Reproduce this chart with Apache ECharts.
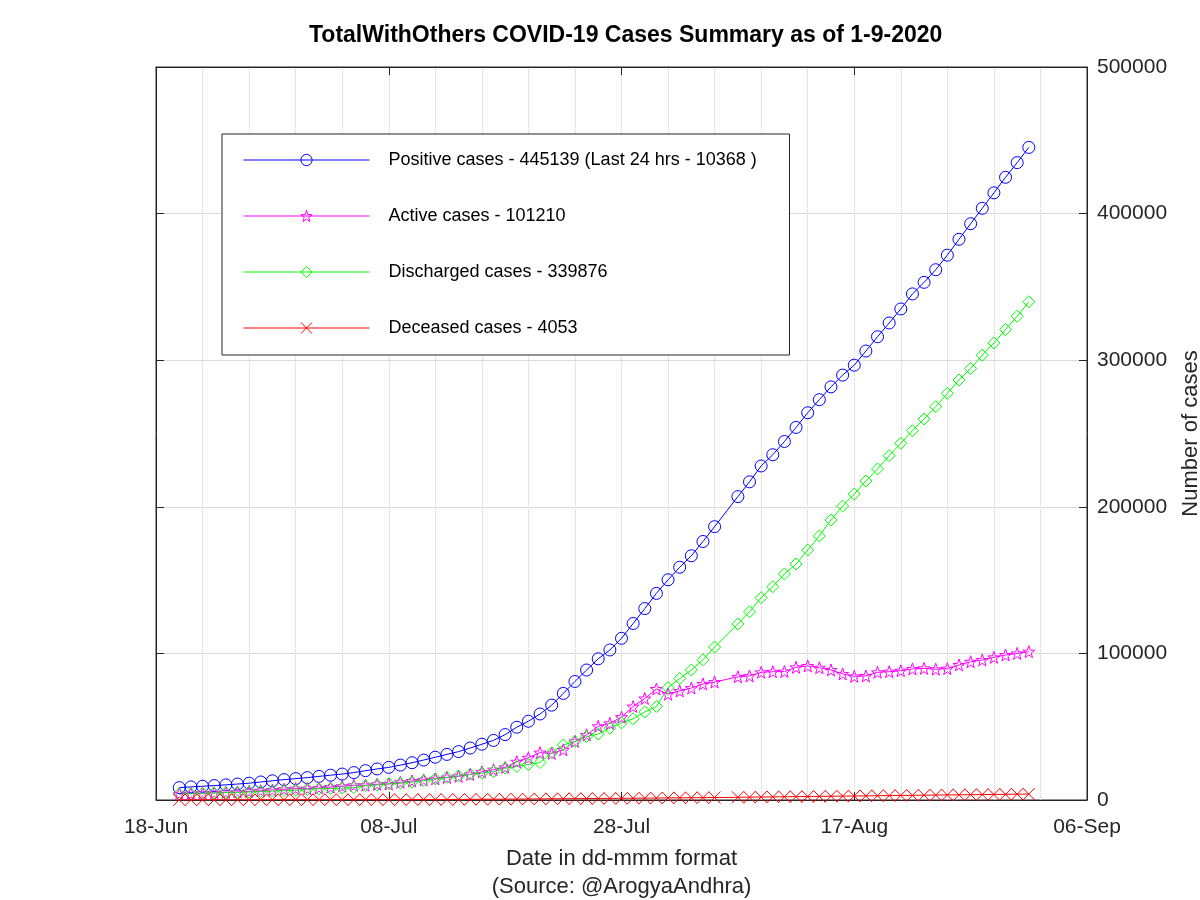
<!DOCTYPE html>
<html>
<head>
<meta charset="utf-8">
<script src="https://cdn.jsdelivr.net/npm/echarts@6/dist/echarts.min.js"></script>
<style>html,body{margin:0;padding:0;background:#fff}#c{width:1200px;height:900px}</style>
</head>
<body>
<div id="c"></div>
<script>
const titleText = 'TotalWithOthers COVID-19 Cases Summary as of 1-9-2020';
const xAxisTitle = 'Date in dd-mmm format\n(Source: @ArogyaAndhra)';
const yAxisTitle = 'Number of cases';
const startDate = '2020-06-18';
const xTickLabels = ['18-Jun', '08-Jul', '28-Jul', '17-Aug', '06-Sep'];
const yTickValues = [0, 100000, 200000, 300000, 400000, 500000];

const dates = [
 '2020-06-20','2020-06-21','2020-06-22','2020-06-23','2020-06-24','2020-06-25','2020-06-26','2020-06-27','2020-06-28','2020-06-29','2020-06-30',
 '2020-07-01','2020-07-02','2020-07-03','2020-07-04','2020-07-05','2020-07-06','2020-07-07','2020-07-08','2020-07-09','2020-07-10',
 '2020-07-11','2020-07-12','2020-07-13','2020-07-14','2020-07-15','2020-07-16','2020-07-17','2020-07-18','2020-07-19','2020-07-20',
 '2020-07-21','2020-07-22','2020-07-23','2020-07-24','2020-07-25','2020-07-26','2020-07-27','2020-07-28','2020-07-29','2020-07-30','2020-07-31',
 '2020-08-01','2020-08-02','2020-08-03','2020-08-04','2020-08-05','2020-08-07','2020-08-08','2020-08-09','2020-08-10',
 '2020-08-11','2020-08-12','2020-08-13','2020-08-14','2020-08-15','2020-08-16','2020-08-17','2020-08-18','2020-08-19','2020-08-20',
 '2020-08-21','2020-08-22','2020-08-23','2020-08-24','2020-08-25','2020-08-26','2020-08-27','2020-08-28','2020-08-29','2020-08-30','2020-08-31',
 '2020-09-01'
];

const positive = [
 8452, 8929, 9372, 9834, 10331, 10884, 11489, 12285, 13098, 13891, 14595,
 15252, 16097, 16934, 17699, 18697, 20019, 21197, 22259, 23814, 25422,
 27235, 29168, 31103, 33019, 35451, 38044, 40646, 44609, 49650, 53724,
 58668, 64713, 72711, 80858, 88671, 96298, 102349, 110297, 120390, 130557, 140933,
 150209, 158764, 166586, 176333, 186461, 206960, 217040, 227860, 235525,
 244549, 254146, 264142, 273085, 281817, 289829, 296609, 306261, 316003, 325396,
 334940, 345216, 353111, 361712, 371639, 382469, 393090, 403616, 414164, 424767, 434771,
 445139
];

const active = [
 4235, 4480, 4664, 4936, 5215, 5552, 5863, 6346, 6833, 7326, 7760,
 7746, 8267, 8831, 9410, 10043, 10035, 10700, 10894, 12091, 12976,
 13732, 14447, 15326, 16147, 17467, 19174, 20719, 22260, 26118, 28800,
 32336, 31763, 34272, 39990, 44431, 50247, 52303, 56527, 63771, 69252, 75720,
 72188, 74404, 76377, 79104, 80426, 84000, 84650, 87100, 87500,
 87600, 90500, 91400, 90200, 88700, 86000, 84300, 84600, 87100, 87500,
 88200, 89400, 89800, 89200, 89600, 92100, 94300, 95500, 97300, 98900, 100000,
 101210
];

const discharged = [
 4111, 4338, 4589, 4779, 4988, 5196, 5480, 5782, 6096, 6385, 6648,
 7313, 7632, 7897, 8071, 8422, 9745, 10245, 11101, 11446, 12154,
 13194, 14393, 15412, 16464, 17532, 18378, 19393, 21763, 22890, 24228,
 25574, 32127, 37555, 39935, 43255, 45010, 48956, 52622, 55406, 60024, 63864,
 76614, 82886, 88672, 95625, 104354, 120100, 128400, 138000, 145500,
 154200, 161000, 170500, 180100, 191000, 200500, 208700, 217600, 225800, 234900,
 243300, 251900, 259900, 268300, 277400, 286500, 294300, 303400, 311800, 320900, 330000,
 339876
];

const deceased = [
 106, 111, 119, 119, 128, 136, 146, 157, 169, 180, 187,
 193, 198, 206, 218, 232, 239, 252, 264, 277, 292,
 309, 328, 365, 408, 452, 492, 534, 586, 642, 696,
 758, 823, 884, 933, 985, 1041, 1090, 1148, 1213, 1281, 1349,
 1407, 1474, 1537, 1604, 1681, 1842, 1939, 2036, 2116,
 2203, 2296, 2378, 2475, 2562, 2650, 2732, 2820, 2906, 2996,
 3092, 3189, 3282, 3368, 3460, 3541, 3633, 3714, 3796, 3884, 3969,
 4053
];

const seriesNames = [
 'Positive cases - 445139 (Last 24 hrs - 10368 )',
 'Active cases - 101210',
 'Discharged cases - 339876',
 'Deceased cases - 4053'
];
const seriesColors = ['#0000ff', '#ff00ff', '#00ff00', '#ff0000'];

const DAY = 86400000;
const t0 = Date.parse(startDate + 'T00:00:00Z');
const dayOffset = d => Math.round((Date.parse(d + 'T00:00:00Z') - t0) / DAY);
const xs = dates.map(dayOffset);
const pairs = arr => arr.map((v, i) => [xs[i], v]);

const FONT = '"Liberation Sans", Arial, Helvetica, sans-serif';
const starPath = 'path://M50,0 L61.76,33.82 L97.55,34.55 L69.02,56.18 L79.39,90.45 L50,70 L20.61,90.45 L30.98,56.18 L2.45,34.55 L38.24,33.82 Z';
const crossPath = 'path://M0,0 L10,10 M10,0 L0,10';
const symbols = ['circle', starPath, 'diamond', crossPath];
const symbolSizes = [12, 12, 12, 12];
const valuesList = [positive, active, discharged, deceased];

const AXC = '#262626';
const chart = echarts.init(document.getElementById('c'), null, {renderer: 'canvas'});
const option = {
  backgroundColor: '#ffffff',
  animation: false,
  textStyle: {fontFamily: FONT},
  title: {
    text: titleText, left: 304, top: 19,
    textStyle: {fontFamily: FONT, fontSize: 23, fontWeight: 'bold', color: '#000'}
  },
  grid: {left: 156, right: 113, top: 67, bottom: 100, outerBoundsMode: 'none', containLabel: false,
         show: true, borderColor: AXC, borderWidth: 1, backgroundColor: 'transparent'},
  legend: {
    orient: 'vertical', left: 222, top: 134,
    itemWidth: 126, itemHeight: 14, itemGap: 36,
    padding: [16, 21, 17, 21],
    borderColor: AXC, borderWidth: 1, backgroundColor: '#ffffff',
    itemStyle: {color: 'transparent', borderWidth: 1},
    lineStyle: {width: 1},
    textStyle: {fontFamily: FONT, fontSize: 18, color: '#000', lineHeight: 20, width: 380, padding: [0, 0, 0, 14]},
    data: seriesNames
  },
  xAxis: [{
    type: 'value', position: 'bottom', min: 0, max: 80, interval: 20,
    axisLine: {show: true, onZero: false, lineStyle: {color: AXC}},
    axisTick: {show: true, inside: true, length: 8, lineStyle: {color: AXC}},
    axisLabel: {
      margin: 17, fontSize: 21, color: AXC, fontFamily: FONT,
      formatter: v => xTickLabels[Math.round(v / 20)] || ''
    },
    splitLine: {show: true, lineStyle: {type: 'dotted', color: '#d0d0d0', width: 1}},
    minorTick: {show: false, splitNumber: 5},
    minorSplitLine: {show: true, lineStyle: {type: 'dotted', color: '#d0d0d0', width: 1}},
    name: xAxisTitle, nameLocation: 'middle', nameGap: 45,
    nameTextStyle: {fontFamily: FONT, fontSize: 22, color: AXC, lineHeight: 28}
  }, {
    type: 'value', position: 'top', min: 0, max: 80, interval: 20,
    axisLine: {show: true, onZero: false, lineStyle: {color: AXC}},
    axisTick: {show: true, inside: true, length: 8, lineStyle: {color: AXC}},
    axisLabel: {show: false}, splitLine: {show: false}
  }],
  yAxis: [{
    type: 'value', position: 'right', min: 0, max: 500000, interval: 100000,
    axisLine: {show: true, onZero: false, lineStyle: {color: AXC}},
    axisTick: {show: true, inside: true, length: 8, lineStyle: {color: AXC}},
    axisLabel: {
      margin: 10, fontSize: 21, color: AXC, fontFamily: FONT,
      formatter: v => yTickValues.includes(v) ? String(v) : ''
    },
    splitLine: {show: true, lineStyle: {type: 'solid', color: '#dcdcdc', width: 1}},
    name: yAxisTitle, nameLocation: 'middle', nameGap: 93, nameRotate: 90,
    nameTextStyle: {fontFamily: FONT, fontSize: 22, color: AXC}
  }, {
    type: 'value', position: 'left', min: 0, max: 500000, interval: 100000,
    axisLine: {show: true, onZero: false, lineStyle: {color: AXC}},
    axisTick: {show: true, inside: true, length: 8, lineStyle: {color: AXC}},
    axisLabel: {show: false}, splitLine: {show: false}
  }],
  series: seriesNames.map((name, i) => ({
    name: name, type: 'line', xAxisIndex: 0, yAxisIndex: 0,
    data: pairs(valuesList[i]),
    symbol: symbols[i], symbolSize: symbolSizes[i], showSymbol: true,
    lineStyle: {color: seriesColors[i], width: 1},
    itemStyle: {color: 'transparent', borderColor: seriesColors[i], borderWidth: 1},
    emphasis: {disabled: true},
    z: 2
  }))
};
chart.setOption(option);
</script>
</body>
</html>
